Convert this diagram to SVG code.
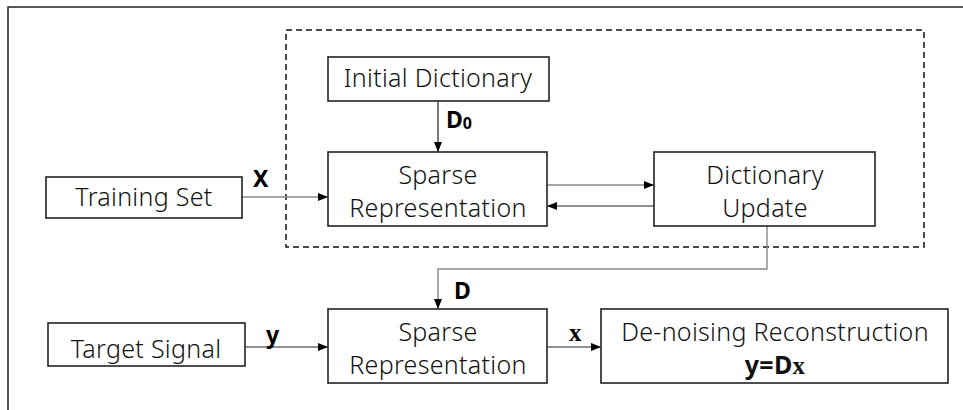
<svg xmlns="http://www.w3.org/2000/svg" width="963" height="410" viewBox="0 0 963 410">
<defs>
<marker id="ah" markerWidth="10" markerHeight="8" refX="10" refY="4" orient="auto" markerUnits="userSpaceOnUse">
<path d="M0,0 L10,4 L0,8 Z" fill="#000"/>
</marker>
<style>
.box{fill:#fff;stroke:#222;stroke-width:1.6}
.t{font-family:"Noto Sans","Open Sans",sans-serif;font-size:25px;font-weight:300;fill:#111;text-anchor:middle;letter-spacing:0.3px}
.lb{font-family:"Noto Sans","Liberation Sans",sans-serif;font-size:23px;font-weight:bold;fill:#000}
.sr{font-family:"Liberation Serif",serif;font-size:25px;font-weight:bold;fill:#000}
.c{fill:none;stroke:#222;stroke-width:1.2}
.g{fill:none;stroke:#888;stroke-width:1.4}
</style>
</defs>
<rect width="963" height="410" fill="#fff"/>
<path d="M8,410 L8,7 L963,7" fill="none" stroke="#222" stroke-width="1.5"/>
<rect x="286" y="30" width="638" height="217" fill="none" stroke="#111" stroke-width="1.5" stroke-dasharray="6,4"/>
<g id="connectors">
<line class="c" x1="438" y1="101" x2="438" y2="152" marker-end="url(#ah)"/>
<line class="g" x1="242" y1="197" x2="328" y2="197" marker-end="url(#ah)"/>
<line class="g" x1="547" y1="185" x2="654" y2="185" marker-end="url(#ah)"/>
<line class="c" x1="654" y1="206" x2="547" y2="206" marker-end="url(#ah)"/>
<polyline class="g" points="767,226 767,269 438,269 438,309" marker-end="url(#ah)"/>
<line class="c" x1="245" y1="347" x2="328" y2="347" marker-end="url(#ah)"/>
<line class="c" x1="547" y1="347" x2="601" y2="347" marker-end="url(#ah)"/>
<text class="lb" x="253" y="187">X</text>
<text class="lb" x="446" y="128">D<tspan font-size="16" dy="1">0</tspan></text>
<text class="lb" x="454" y="299">D</text>
<text class="lb" x="266" y="343">y</text>
<text class="sr" x="569" y="341">x</text>
</g>
<g id="initial-dictionary">
<rect class="box" x="328" y="57" width="221" height="44"/>
<text class="t" x="438" y="87">Initial Dictionary</text>
</g>
<g id="training-set">
<rect class="box" x="46" y="177" width="196" height="41"/>
<text class="t" x="144" y="206">Training Set</text>
</g>
<g id="sparse-rep-1">
<rect class="box" x="328" y="152" width="219" height="74"/>
<text class="t" x="438" y="184">Sparse</text>
<text class="t" x="438" y="217">Representation</text>
</g>
<g id="dictionary-update">
<rect class="box" x="654" y="152" width="221" height="74"/>
<text class="t" x="765" y="184">Dictionary</text>
<text class="t" x="765" y="217">Update</text>
</g>
<g id="target-signal">
<rect class="box" x="48" y="323" width="197" height="43"/>
<text class="t" x="146" y="358">Target Signal</text>
</g>
<g id="sparse-rep-2">
<rect class="box" x="328" y="309" width="219" height="74"/>
<text class="t" x="438" y="341">Sparse</text>
<text class="t" x="438" y="374">Representation</text>
</g>
<g id="denoising">
<rect class="box" x="601" y="309" width="347" height="74"/>
<text class="t" x="775" y="341">De-noising Reconstruction</text>
<text class="t" x="775" y="374"><tspan font-weight="bold">y=D</tspan><tspan font-family="Liberation Serif,serif" font-weight="bold">x</tspan></text>
</g>
</svg>
